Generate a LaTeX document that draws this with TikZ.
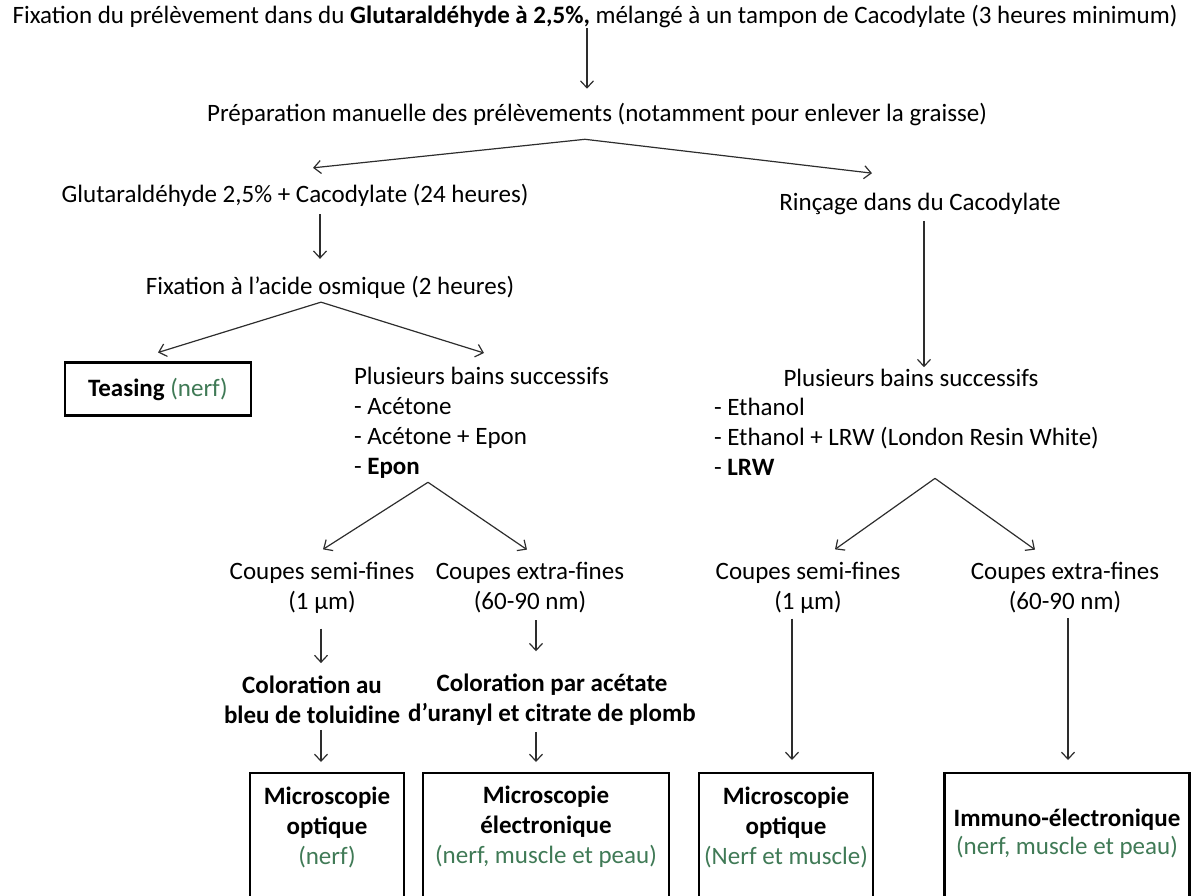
\documentclass[tikz,border=0pt]{standalone}
\usepackage{fontspec}
\setmainfont{Carlito}
\usepackage{tikz}
\usetikzlibrary{arrows.meta,positioning,calc}
\definecolor{inkgray}{RGB}{45,45,45}
\definecolor{leafgreen}{RGB}{64,122,86}
\newcommand{\gr}[1]{\textcolor{leafgreen}{#1}}

\begin{document}
\begin{tikzpicture}[
    x=1pt, y=-1pt,
    every node/.style={font=\fontsize{25}{30}\selectfont, text=black, inner sep=0pt, outer sep=0pt},
    stage/.style={align=center},
    listing/.style={align=left, anchor=north west},
    result/.style={draw, line width=2.4pt, anchor=north, minimum height=150pt},
    arrow/.style={-{Straight Barb[length=7pt,width=13pt]}, draw=inkgray, line width=1.2pt}
]
    \useasboundingbox (0,0) rectangle (1195,895);

    % fixation and preparation
    \node[stage] (top) at (595,17) {Fixation du prélèvement dans du \textbf{Glutaraldéhyde à 2,5\%,} mélangé à un tampon de Cacodylate (3 heures minimum)};
    \node[stage] (prep) at (597,115) {Préparation manuelle des prélèvements (notamment pour enlever la graisse)};
    \node[stage] (glut) at (295,195) {Glutaraldéhyde 2,5\% + Cacodylate (24 heures)};
    \node[stage] (rinc) at (920,204) {Rinçage dans du Cacodylate};
    \node[stage] (osm) at (330,287) {Fixation à l’acide osmique (2 heures)};

    % left branch
    \node[draw, line width=2.4pt, minimum width=186pt, minimum height=53pt] (teas) at (158,389) {\textbf{Teasing} \gr{(nerf)}};
    \node[listing] (bainsL) at (354,367) {Plusieurs bains successifs\\- Acétone\\- Acétone + Epon\\- \textbf{Epon}};
    \node[stage] (semiL) at (322,588) {Coupes semi-fines\\(1 µm)};
    \node[stage] (extraL) at (530,588) {Coupes extra-fines\\(60-90 nm)};
    \node[stage, font=\fontsize{25}{30}\selectfont\bfseries] (colL) at (312,700) {Coloration au\\bleu de toluidine};
    \node[stage, font=\fontsize{25}{30}\selectfont\bfseries] (colR) at (552,700) {Coloration par acétate\\d’uranyl et citrate de plomb};

    % right branch
    \node[stage] (bainsR) at (911,378) {Plusieurs bains successifs};
    \node[listing] (lstR) at (714,398) {- Ethanol\\- Ethanol + LRW (London Resin White)\\- \textbf{LRW}};
    \node[stage] (semiR) at (808,588) {Coupes semi-fines\\(1 µm)};
    \node[stage] (extraR) at (1065,588) {Coupes extra-fines\\(60-90 nm)};

    % results
    \node[result, minimum width=154pt] (m1) at (327,773) {};
    \node[result, minimum width=246pt] (m2) at (546,773) {};
    \node[result, minimum width=174pt] (m3) at (786,773) {};
    \node[result, minimum width=245pt] (m4) at (1067,773) {};
    \node[stage] (m1t) at ($(m1.north)+(0,54)$) {\textbf{Microscopie}\\\textbf{optique}\\\gr{(nerf)}};
    \node[stage] (m2t) at ($(m2.north)+(0,54)$) {\textbf{Microscopie}\\\textbf{électronique}\\\gr{(nerf, muscle et peau)}};
    \node[stage] (m3t) at ($(m3.north)+(0,54)$) {\textbf{Microscopie}\\\textbf{optique}\\\gr{(Nerf et muscle)}};
    \node[stage, font=\fontsize{25}{28}\selectfont] (m4t) at ($(m4.north)+(0,61)$) {\textbf{Immuno-électronique}\\\gr{(nerf, muscle et peau)}};

    % arrows
    \draw[arrow] ($(top.south)+(-8,0)$) -- ($(prep.north)+(-10,-15)$);
    \draw[arrow] ($(prep.south)+(-12,13)$) -- ($(glut.north)+(18,-16)$);
    \draw[arrow] ($(prep.south)+(-12,13)$) -- ($(rinc.north)+(-48,-20)$);
    \draw[arrow] ($(glut.south)+(25,8)$) -- ($(osm.north)+(-10,-17)$);
    \draw[arrow] ($(osm.south)+(-9,4)$) -- ($(teas.north)+(0,-10)$);
    \draw[arrow] ($(osm.south)+(-9,4)$) -- ($(bainsL.north west)+(130,-14)$);
    \draw[arrow] ($(rinc.south)+(4,6)$) -- ($(bainsR.north)+(13,-2)$);
    \draw[arrow] ($(bainsL.south west)+(74,4)$) -- ($(semiL.north)+(1,-13)$);
    \draw[arrow] ($(bainsL.south west)+(74,4)$) -- ($(extraL.north)+(-3,-13)$);
    \draw[arrow] ($(lstR.south west)+(221,3)$) -- ($(semiR.north)+(27,-13)$);
    \draw[arrow] ($(lstR.south west)+(221,3)$) -- ($(extraR.north)+(-30,-13)$);
    \draw[arrow] ($(semiL.south)+(-1,15)$) -- ($(colL.north)+(9,-13)$);
    \draw[arrow] ($(extraL.south)+(6,7)$) -- ($(colR.north)+(-16,-23)$);
    \draw[arrow] ($(colL.south)+(9,6)$) -- ($(m1.north)+(-6,-11)$);
    \draw[arrow] ($(colR.south)+(-16,6)$) -- ($(m2.north)+(-10,-11)$);
    \draw[arrow] ($(semiR.south)+(-16,5)$) -- ($(m3.north)+(6,-13)$);
    \draw[arrow] ($(extraR.south)+(3,5)$) -- ($(m4.north)+(1,-13)$);
\end{tikzpicture}
\end{document}
